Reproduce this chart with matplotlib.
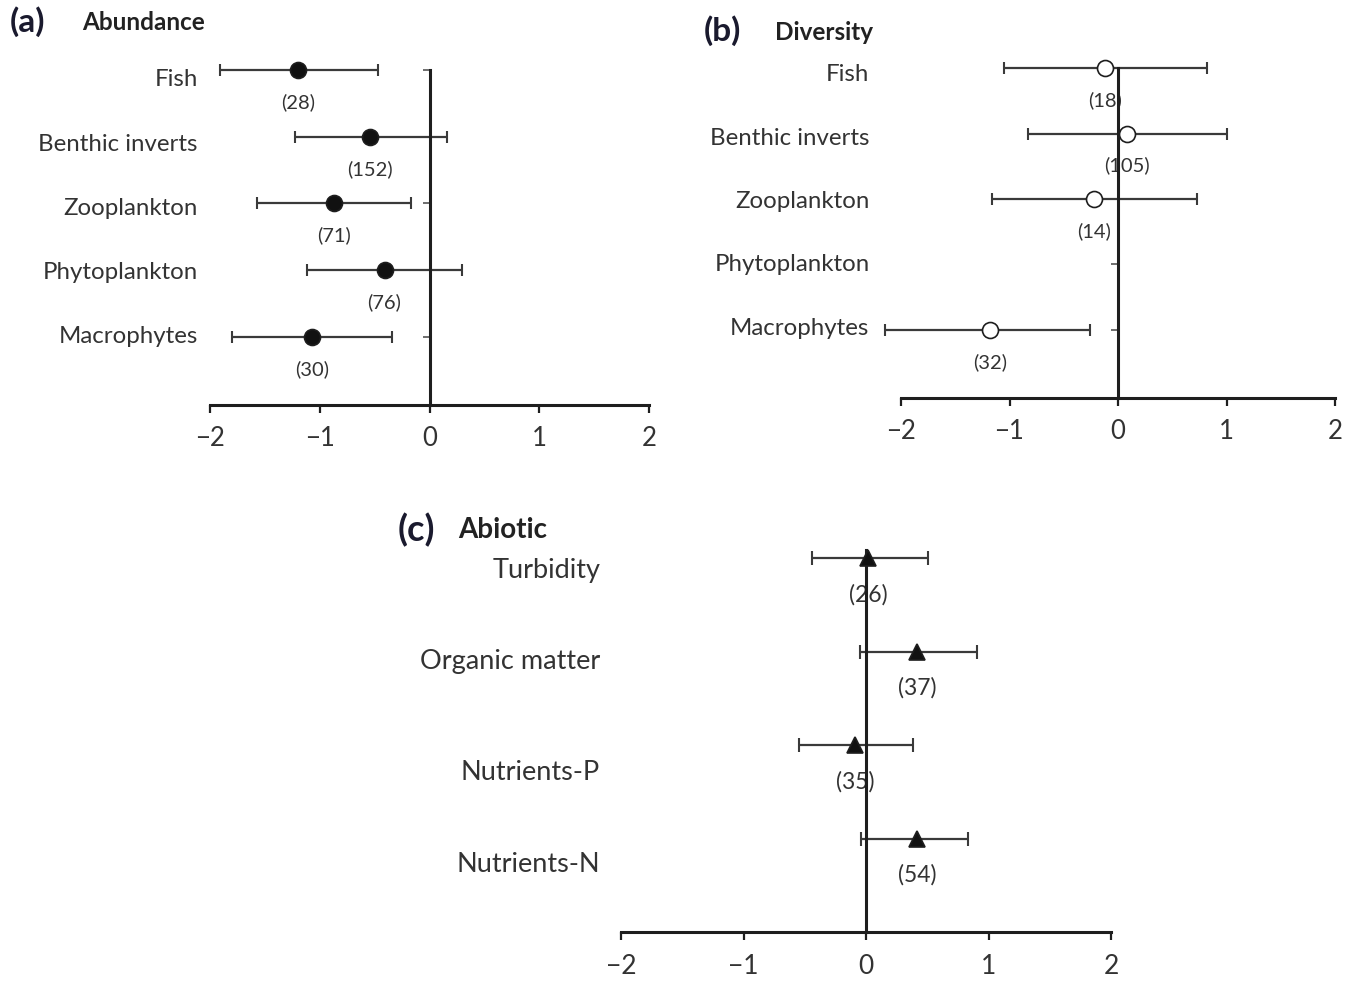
import numpy as np
import matplotlib
matplotlib.use("Agg")
import matplotlib.pyplot as plt

plt.rcParams['font.family'] = ['Lato', 'DejaVu Sans']

# (a) abundance
a_cats = ["Fish", "Benthic inverts", "Zooplankton", "Phytoplankton", "Macrophytes"]
a_mean = [-1.20, -0.54, -0.87, -0.41, -1.07]
a_low = [-1.91, -1.23, -1.57, -1.12, -1.80]
a_high = [-0.47, 0.16, -0.17, 0.30, -0.34]
a_n = [28, 152, 71, 76, 30]

# (b) diversity (no phytoplankton estimate)
b_cats = ["Fish", "Benthic inverts", "Zooplankton", "Phytoplankton", "Macrophytes"]
b_mean = [-0.12, 0.08, -0.22, np.nan, -1.18]
b_low = [-1.05, -0.83, -1.16, np.nan, -2.15]
b_high = [0.82, 1.00, 0.73, np.nan, -0.26]
b_n = [18, 105, 14, None, 32]

# (c) abiotic
c_cats = ["Turbidity", "Organic matter", "Nutrients-P", "Nutrients-N"]
c_mean = [0.02, 0.42, -0.09, 0.42]
c_low = [-0.44, -0.05, -0.55, -0.04]
c_high = [0.51, 0.91, 0.38, 0.83]
c_n = [26, 37, 35, 54]

xticks = [-2, -1, 0, 1, 2]
xticklabels = ["\u22122", "\u22121", "0", "1", "2"]

W, H = 1346, 981
fig = plt.figure(figsize=(W / 100, H / 100), dpi=100)

dark = "#1e1e1e"
txt = "#333333"


def panel(rect, cats, mean, low, high, ns, ybot, ytop, vtop, marker, face,
          lab_x, lab_dy, n_dy, lab_fs, n_fs, tick_fs, tick_pad, capsize=4,
          yticks_on=True):
    ax = fig.add_axes(rect)
    ax.set_xlim(-2, 2)
    ax.set_ylim(ybot, ytop)
    ax.patch.set_alpha(0)
    y = np.arange(len(cats))
    mean = np.array(mean, dtype=float)
    low = np.array(low, dtype=float)
    high = np.array(high, dtype=float)
    ok = ~np.isnan(mean)
    ax.errorbar(mean[ok], y[ok], xerr=[mean[ok] - low[ok], high[ok] - mean[ok]],
                fmt="none", ecolor="#3a3a3a", elinewidth=1.6, capsize=capsize,
                capthick=1.5, zorder=2, clip_on=False)
    ax.plot(mean[ok], y[ok], linestyle="none", marker=marker, markersize=11.5,
            markerfacecolor=face, markeredgecolor=dark, markeredgewidth=1.2,
            zorder=4, clip_on=False)
    for yi, m, n in zip(y, mean, ns):
        if n is None or np.isnan(m):
            continue
        ax.text(m, yi + n_dy, f"({n})", ha="center", va="center", fontsize=n_fs,
                color=txt, zorder=1)
    for yi, c, dy in zip(y, cats, lab_dy):
        ax.text(lab_x, yi + dy, c, ha="right", va="center", fontsize=lab_fs,
                color=txt, clip_on=False)
    for s in ("top", "right"):
        ax.spines[s].set_visible(False)
    ax.spines["left"].set_position(("data", 0))
    ax.spines["left"].set_bounds(vtop, ybot)
    ax.spines["left"].set_linewidth(2.2)
    ax.spines["left"].set_color(dark)
    ax.spines["left"].set_zorder(3)
    ax.spines["bottom"].set_bounds(-2, 2)
    ax.spines["bottom"].set_linewidth(2.2)
    ax.spines["bottom"].set_color(dark)
    ax.set_xticks(xticks)
    ax.set_xticklabels(xticklabels, fontsize=tick_fs, color=txt)
    ax.tick_params(axis="x", direction="out", length=6, width=1.6, color=dark,
                   pad=tick_pad)
    if yticks_on:
        ax.set_yticks(y)
    else:
        ax.set_yticks([])
    ax.set_yticklabels([])
    ax.tick_params(axis="y", direction="out", length=5, width=1.2, color="#555555")
    return ax


def frac(x0, x1, ytop_px, ybot_px):
    return [x0 / W, 1 - ybot_px / H, (x1 - x0) / W, (ybot_px - ytop_px) / H]


panel(frac(210, 649, 50, 405), a_cats, a_mean, a_low, a_high, a_n,
      5.02, -0.3, 0.0, "o", "#111111", -2.11,
      [0.14, 0.11, 0.07, 0.04, -0.01], 0.48, 17.3, 14.5, 18.5, 9)
panel(frac(901, 1335, 48.4, 398), b_cats, b_mean, b_low, b_high, b_n,
      5.04, -0.3, 0.0, "o", "white", -2.29,
      [0.105, 0.08, 0.045, 0.0, -0.015], 0.49, 17.3, 14.5, 18.5, 9)
panel(frac(621, 1111, 530, 932), c_cats, c_mean, c_low, c_high, c_n,
      4.0, -0.3, -0.09, "^", "#111111", -2.17,
      [0.135, 0.105, 0.295, 0.275], 0.39, 19.5, 16.5, 19, 10, capsize=5,
      yticks_on=False)

# panel titles
fig.text(10 / W, 1 - 22 / H, "(a)", fontsize=24, fontweight="bold", color="#1a1a2e",
         va="center", ha="left")
fig.text(82 / W, 1 - 23 / H, "Abundance", fontsize=17.5, fontweight="bold",
         color="#222222", va="center", ha="left")
fig.text(704 / W, 1 - 31 / H, "(b)", fontsize=24, fontweight="bold", color="#1a1a2e",
         va="center", ha="left")
fig.text(775 / W, 1 - 33 / H, "Diversity", fontsize=17.5, fontweight="bold",
         color="#222222", va="center", ha="left")
fig.text(398 / W, 1 - 530 / H, "(c)", fontsize=26, fontweight="bold", color="#1a1a2e",
         va="center", ha="left")
fig.text(458 / W, 1 - 530 / H, "Abiotic", fontsize=20, fontweight="bold",
         color="#222222", va="center", ha="left")

fig.savefig("out.png", dpi=100)
